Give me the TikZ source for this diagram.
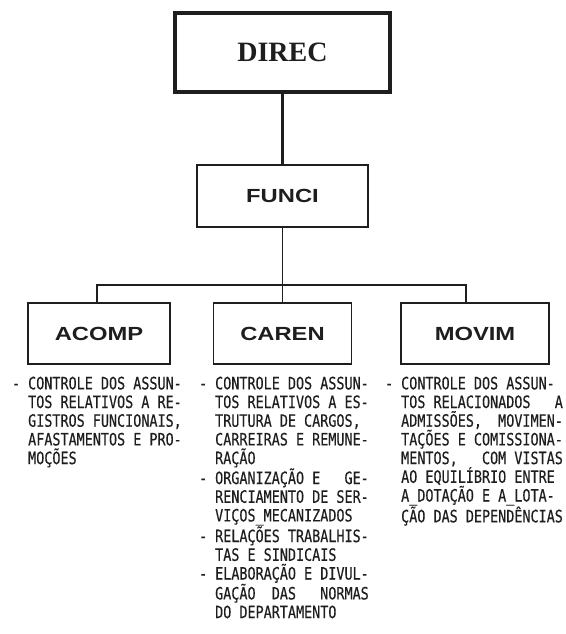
\documentclass[tikz,border=0pt]{standalone}
\usepackage{fontspec}
\setmainfont{Liberation Serif}
\newfontfamily\dotfont[FakeStretch=0.79,FakeBold=0.4]{DejaVu Sans Mono}
\newfontfamily\boxfont[FakeStretch=1.25]{Liberation Sans}
\newfontfamily\headfont{Liberation Serif}
\definecolor{ink}{HTML}{1E1E1E}
\tikzset{
  unit/.style={draw=ink, rectangle, inner sep=0pt, text=ink},
  headbox/.style={unit, line width=4pt, font=\headfont\bfseries\fontsize{28pt}{30pt}\selectfont},
  midbox/.style={unit, line width=2.2pt, font=\boxfont\bfseries\fontsize{19pt}{21pt}\selectfont},
  subbox/.style={unit, line width=1.4pt, font=\boxfont\bfseries\fontsize{19pt}{21pt}\selectfont},
  notes/.style={anchor=north west, inner sep=0pt, align=left, text=ink,
    font=\dotfont\frenchspacing\fontsize{17pt}{18.7pt}\selectfont},
  wire/.style={draw=ink, line width=1.4pt}
}
\begin{document}
\begin{tikzpicture}[x=1pt,y=-1pt]
\useasboundingbox (0,0) rectangle (565,634);

% boxes
\node[headbox, minimum width=215pt, minimum height=79pt] (direc) at (282.5,52.5) {DIREC};
\node[midbox, minimum width=171pt, minimum height=62pt] (funci) at (282.5,196) {FUNCI};
\node[subbox, minimum width=142pt, minimum height=61pt] (acomp) at (99,333.5) {ACOMP};
\node[subbox, minimum width=138pt, minimum height=61pt] (caren) at (282.5,333.5) {CAREN};
\node[subbox, minimum width=148pt, minimum height=61pt] (movim) at (475,333.5) {MOVIM};

% bus ends
\coordinate (busL) at (97,285);
\coordinate (busR) at (466,285);

% connectors
\draw[wire, line width=2.6pt] (direc.south) -- (funci.north);
\draw[wire] (funci.south) -- (funci.south |- busL);
\draw[wire] (busL |- acomp.north) -- (busL) -- (busR) -- (busR |- movim.north);
\draw[wire] (funci.south |- busL) -- (caren.north);

% descriptions
\node[notes] (acompnotes) at (11.8,376.5) {%
- CONTROLE DOS ASSUN-\\
~~TOS RELATIVOS A RE-\\
~~GISTROS FUNCIONAIS,\\
~~AFASTAMENTOS E PRO-\\
~~MOÇÕES};

\node[notes] (carennotes) at (198.8,376.5) {%
- CONTROLE DOS ASSUN-\\
~~TOS RELATIVOS A ES-\\
~~TRUTURA DE CARGOS,\\
~~CARREIRAS E REMUNE-\\
~~RAÇÃO\\
- ORGANIZAÇÃO E~~~GE-\\
~~RENCIAMENTO DE SER-\\
~~VIÇOS\_MECANIZADOS\\
- RELAÇÕES TRABALHIS-\\
~~TAS E SINDICAIS\\
- ELABORAÇÃO E DIVUL-\\
~~GAÇÃO~~DAS~~~NORMAS\\
~~DO DEPARTAMENTO};

\node[notes] (movimnotes) at (384.8,376.5) {%
- CONTROLE DOS ASSUN-\\
~~TOS RELACIONADOS~~~A\\
~~ADMISSÕES,~~MOVIMEN-\\
~~TAÇÕES E COMISSIONA-\\
~~MENTOS,~~~COM VISTAS\\
~~AO EQUILÍBRIO ENTRE\\
~~A\_DOTAÇÃO E A\_LOTA-\\
~~ÇÃO DAS DEPENDÊNCIAS};
\end{tikzpicture}
\end{document}
